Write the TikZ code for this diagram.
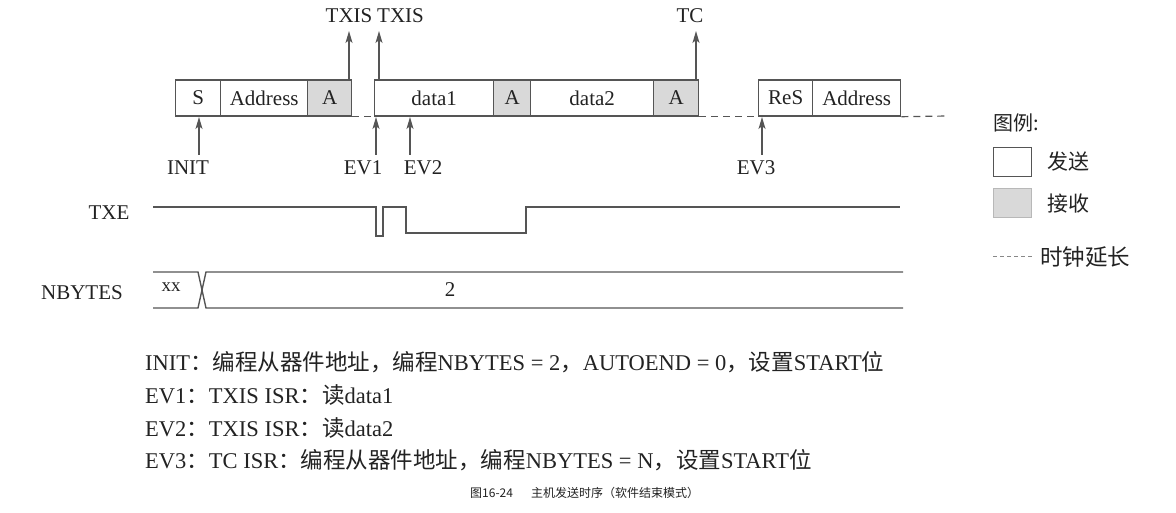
\documentclass[tikz,border=0pt]{standalone}
\usepackage{fontspec}
\setmainfont{Liberation Serif}
\newfontfamily\cjk{Noto Sans CJK SC}
\usetikzlibrary{arrows.meta}
\definecolor{ln}{HTML}{555555}
\definecolor{rx}{HTML}{D9D9D9}
\definecolor{tx}{HTML}{222222}
\tikzset{
  fr/.style={draw=ln, line width=1.4pt, minimum height=36pt, inner sep=0pt, text=tx, font=\fontsize{21}{21}\selectfont, anchor=west},
  rxbox/.style={fr, fill=rx},
  sig/.style={draw=ln, line width=1.4pt},
  ev/.style={draw=ln, line width=1.4pt, -{Stealth[length=12pt,width=7pt,inset=3pt]}},
  lbl/.style={text=tx, font=\fontsize{21}{21}\selectfont, inner sep=0pt},
  ext/.style={draw=ln, line width=1.2pt, dash pattern=on 7pt off 5pt},
  desc/.style={text=tx, font=\fontsize{22.5}{22.5}\selectfont, inner sep=0pt, anchor=west}
}
\begin{document}
\begin{tikzpicture}[x=1pt,y=-1pt]
\useasboundingbox (0,0) rectangle (1176,513);
% frames
\node[fr, minimum width=45pt] (s1) at (175,98) {S};
\node[fr, minimum width=87pt] (addr1) at (220,98) {Address};
\node[rxbox, minimum width=44pt] (a1) at (307,98) {A};
\node[fr, minimum width=119pt] (d1) at (374,98) {data1};
\node[rxbox, minimum width=37pt] (a2) at (493,98) {A};
\node[fr, minimum width=123pt] (d2) at (530,98) {data2};
\node[rxbox, minimum width=45pt] (a3) at (653,98) {A};
\node[fr, minimum width=54pt] (res) at (758,98) {ReS};
\node[fr, minimum width=88pt] (addr2) at (812,98) {Address};
\coordinate (endext) at (948,116);
\draw[ext] (a1.south east) -- (d1.south west);
\draw[ext] (a3.south east) -- (res.south west);
\draw[ext] (addr2.south east) -- (endext);
% top events
\node[lbl] (txis1) at (349,16) {TXIS};
\node[lbl, anchor=west] (txis2) at (377,16) {TXIS};
\node[lbl] (tc) at (690,16) {TC};
\coordinate (t1) at (349,31);
\coordinate (t2) at (379,31);
\coordinate (t3) at (696,31);
\coordinate (b1) at (349,80);
\coordinate (b2) at (379,80);
\coordinate (b3) at (696,80);
\draw[ev] (b1) -- (t1);
\draw[ev] (b2) -- (t2);
\draw[ev] (b3) -- (t3);
% bottom events
\node[lbl] (init) at (188,168) {INIT};
\node[lbl] (ev1) at (363,168) {EV1};
\node[lbl] (ev2) at (423,168) {EV2};
\node[lbl] (ev3) at (756,168) {EV3};
\coordinate (u1) at (199,155); \coordinate (v1) at (199,117);
\coordinate (u2) at (376,155); \coordinate (v2) at (376,117);
\coordinate (u3) at (410,155); \coordinate (v3) at (410,117);
\coordinate (u4) at (762,155); \coordinate (v4) at (762,117);
\draw[ev] (u1) -- (v1);
\draw[ev] (u2) -- (v2);
\draw[ev] (u3) -- (v3);
\draw[ev] (u4) -- (v4);
% TXE
\node[lbl] (txe) at (109,213) {TXE};
\draw[sig] (153,207) -- (376,207) -- (376,236) -- (383,236) -- (383,207) -- (406,207) -- (406,233) -- (526,233) -- (526,207) -- (900,207);
% NBYTES
\node[lbl] (nb) at (82,293) {NBYTES};
\draw[sig] (153,272) -- (198,272) -- (206,308) -- (903,308);
\draw[sig] (153,308) -- (198,308) -- (206,272) -- (903,272);
\node[lbl, font=\fontsize{19}{19}\selectfont] (xx) at (171,287) {xx};
\node[lbl] (two) at (450,290) {2};
% legend
\node[lbl, anchor=west, font=\cjk\fontsize{20}{20}\selectfont] (lg) at (993,123) {图例:};
\node[draw=ln, line width=1.4pt, minimum width=38pt, minimum height=29pt, inner sep=0pt, anchor=north west] (lw) at (993,147) {};
\node[lbl, anchor=west, font=\cjk\fontsize{21}{21}\selectfont] (lwt) at (1047,162) {发送};
\node[draw=rx!85!black, fill=rx, line width=0.8pt, minimum width=38pt, minimum height=29pt, inner sep=0pt, anchor=north west] (lg2) at (993,188) {};
\node[lbl, anchor=west, font=\cjk\fontsize{21}{21}\selectfont] (lgt) at (1047,204) {接收};
\coordinate (ld1) at (993,257); \coordinate (ld2) at (1033,257);
\draw[draw=ln!70, line width=1pt, dash pattern=on 4pt off 3pt] (ld1) -- (ld2);
\node[lbl, anchor=west, font=\cjk\fontsize{22.5}{22.5}\selectfont] (ldt) at (1040,257) {时钟延长};
% descriptions
\node[desc] (l1) at (145,362) {INIT{\cjk：编程从器件地址，编程}NBYTES = 2{\cjk，}AUTOEND = 0{\cjk，设置}START{\cjk 位}};
\node[desc] (l2) at (145,395) {EV1{\cjk：}TXIS ISR{\cjk：读}data1};
\node[desc] (l3) at (145,428) {EV2{\cjk：}TXIS ISR{\cjk：读}data2};
\node[desc] (l4) at (145,460) {EV3{\cjk：}TC ISR{\cjk：编程从器件地址，编程}NBYTES = N{\cjk，设置}START{\cjk 位}};
\node[text=tx, inner sep=0pt, anchor=west, font=\cjk\fontsize{12}{12}\selectfont] (cap) at (470,493) {图16-24\hspace{1.5em}主机发送时序（软件结束模式）};
\end{tikzpicture}
\end{document}
